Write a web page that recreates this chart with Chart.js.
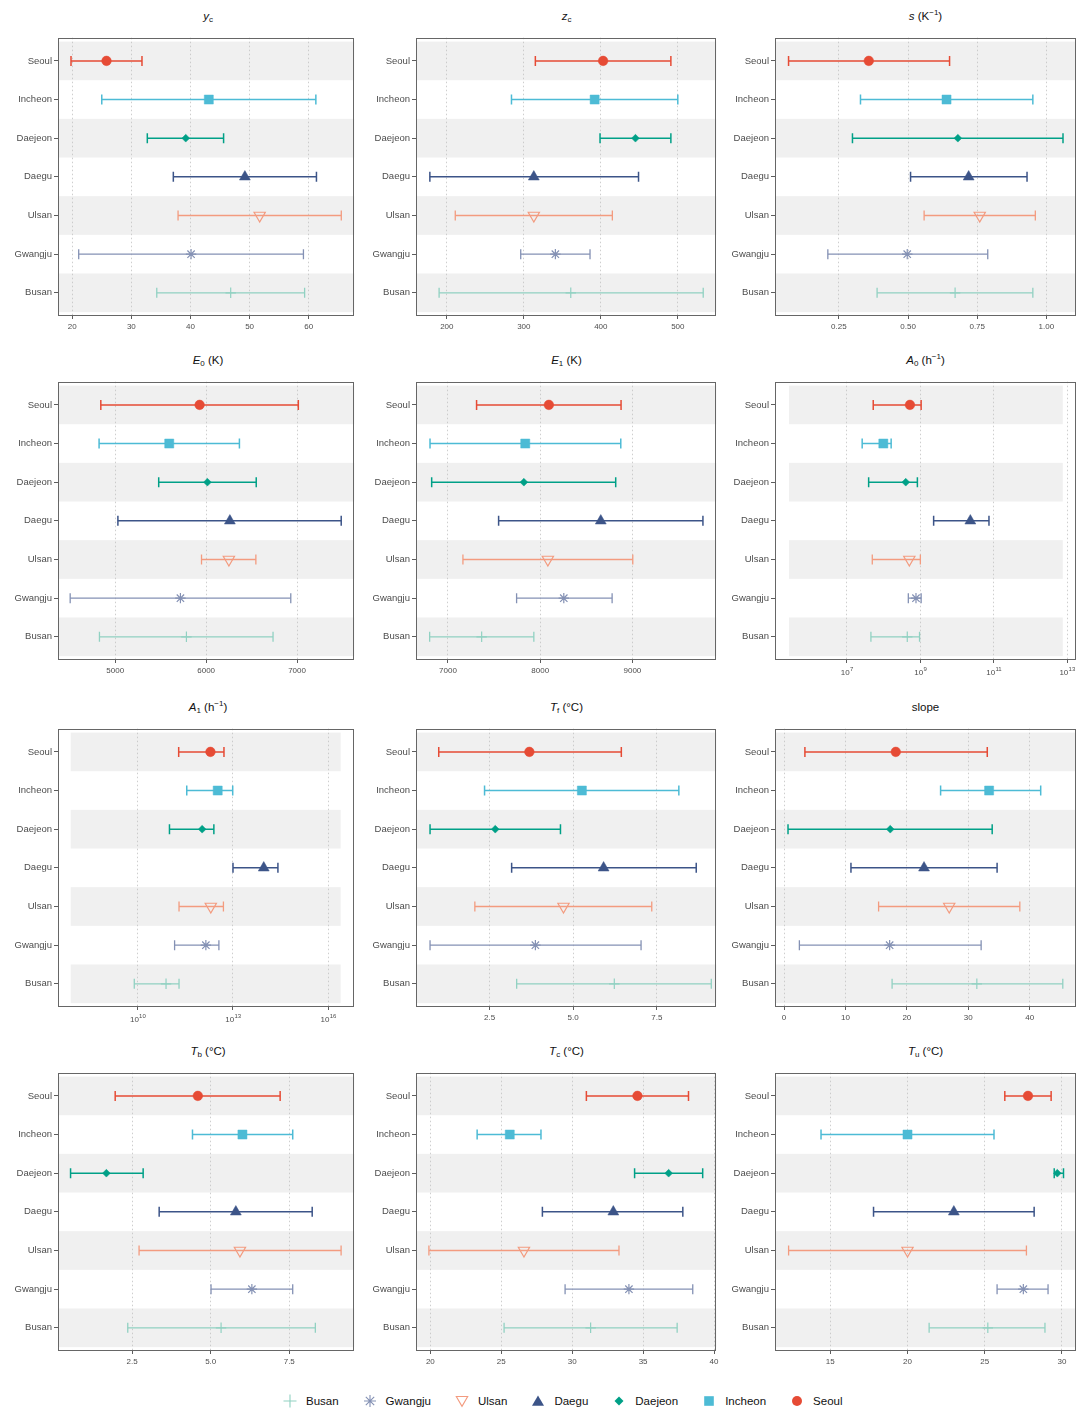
<!DOCTYPE html>
<html><head><meta charset="utf-8">
<script src="https://cdn.jsdelivr.net/npm/chart.js@4.4.1/dist/chart.umd.min.js"></script>
<style>
html,body{margin:0;padding:0;background:#fff;}
#wrap{position:relative;width:1086px;height:1420px;font-family:"Liberation Sans",Arial,sans-serif;overflow:hidden;}
canvas.cv{position:absolute;}
.ttl{position:absolute;text-align:center;font-size:11.5px;color:#111;line-height:14px;height:14px;white-space:nowrap;}
.ttl sub{font-size:8px;vertical-align:-2px;line-height:0;}
.ttl sup{font-size:8px;vertical-align:5px;line-height:0;}
#legend{position:absolute;left:282px;top:1393px;display:flex;align-items:center;gap:23px;font-size:11.5px;color:#111;height:16px;}
.li{display:flex;align-items:center;height:16px;}
.li svg{width:16px;height:16px;margin-right:8px;display:block;}
</style>
</head><body>
<div id="wrap"></div>
<script>
// ---------- categories & colours ----------
const cities = ['Seoul','Incheon','Daejeon','Daegu','Ulsan','Gwangju','Busan'];
const colors = ['#E64B35','#4DBBD5','#00A087','#3C5488','#F39B7F','#8491B4','#91D1C2'];

// ---------- data (lower bound, estimate, upper bound) ----------
const yc_lo  = [19.8, 25.0, 32.7, 37.1, 37.9, 21.1, 34.3];
const yc_mid = [25.8, 43.1, 39.2, 49.2, 51.7, 40.1, 46.8];
const yc_hi  = [31.8, 61.2, 45.6, 61.3, 65.5, 59.1, 59.3];

const zc_lo  = [315, 284, 399, 178, 211, 296, 190];
const zc_mid = [403, 392, 445, 313, 313, 341, 361];
const zc_hi  = [491, 500, 491, 449, 415, 386, 533];

const s_lo  = [0.068, 0.328, 0.299, 0.509, 0.558, 0.210, 0.388];
const s_mid = [0.358, 0.639, 0.680, 0.719, 0.759, 0.497, 0.670];
const s_hi  = [0.650, 0.951, 1.060, 0.930, 0.960, 0.788, 0.951];

const E0_lo  = [4841, 4822, 5478, 5029, 5949, 4504, 4826];
const E0_mid = [5928, 5594, 6014, 6261, 6250, 5717, 5783];
const E0_hi  = [7014, 6366, 6551, 7486, 6547, 6931, 6736];

const E1_lo  = [7310, 6805, 6823, 7549, 7162, 7744, 6801];
const E1_mid = [8094, 7838, 7823, 8657, 8083, 8256, 7365];
const E1_hi  = [8877, 8874, 8819, 9765, 9004, 8780, 7931];

const A0_lo  = [5.2e7, 2.6e7, 3.9e7, 2.3e9, 4.9e7, 4.7e8, 4.5e7];
const A0_mid = [5.2e8, 9.8e7, 4.0e8, 2.3e10, 5.0e8, 7.6e8, 4.4e8];
const A0_hi  = [1.05e9, 1.6e8, 8.3e8, 7.4e10, 1.0e9, 1.05e9, 9.5e8];

const A1_lo  = [1.95e11, 3.5e11, 1.0e11, 1.0e13, 2.0e11, 1.45e11, 7.8e9];
const A1_mid = [1.95e12, 3.3e12, 1.07e12, 9.3e13, 2.0e12, 1.4e12, 7.8e10];
const A1_hi  = [5.2e12, 9.8e12, 2.5e12, 2.6e14, 5.0e12, 3.6e12, 2.0e11];

const Tf_lo  = [0.98, 2.35, 0.72, 3.16, 2.06, 0.72, 3.31];
const Tf_mid = [3.69, 5.26, 2.67, 5.91, 4.71, 3.87, 6.23];
const Tf_hi  = [6.44, 8.16, 4.62, 8.68, 7.35, 7.03, 9.13];

const slope_lo  = [3.4, 25.5, 0.65, 10.9, 15.4, 2.5, 17.6];
const slope_mid = [18.2, 33.4, 17.3, 22.8, 26.9, 17.2, 31.4];
const slope_hi  = [33.1, 41.8, 33.9, 34.7, 38.4, 32.1, 45.4];

const Tb_lo  = [1.96, 4.42, 0.54, 3.36, 2.72, 5.01, 2.36];
const Tb_mid = [4.59, 6.01, 1.68, 5.80, 5.93, 6.31, 5.33];
const Tb_hi  = [7.21, 7.61, 2.85, 8.23, 9.15, 7.61, 8.33];

const Tc_lo  = [31.0, 23.3, 34.4, 27.9, 19.9, 29.5, 25.2];
const Tc_mid = [34.6, 25.6, 36.8, 32.9, 26.6, 34.0, 31.3];
const Tc_hi  = [38.2, 27.8, 39.2, 37.8, 33.3, 38.5, 37.4];

const Tu_lo  = [26.3, 14.4, 29.5, 17.8, 12.3, 25.8, 21.4];
const Tu_mid = [27.8, 20.0, 29.7, 23.0, 20.0, 27.5, 25.2];
const Tu_hi  = [29.3, 25.6, 30.1, 28.2, 27.7, 29.1, 28.9];

// ---------- tick values & labels ----------
const yc_ticks = [20, 30, 40, 50, 60];          const yc_labels = ['20','30','40','50','60'];
const zc_ticks = [200, 300, 400, 500];          const zc_labels = ['200','300','400','500'];
const s_ticks = [0.25, 0.5, 0.75, 1.0];         const s_labels = ['0.25','0.50','0.75','1.00'];
const E0_ticks = [5000, 6000, 7000];            const E0_labels = ['5000','6000','7000'];
const E1_ticks = [7000, 8000, 9000];            const E1_labels = ['7000','8000','9000'];
const A0_ticks = [1e7, 1e9, 1e11, 1e13];        const A0_labels = ['10^7','10^9','10^11','10^13'];
const A1_ticks = [1e10, 1e13, 1e16];            const A1_labels = ['10^10','10^13','10^16'];
const Tf_ticks = [2.5, 5, 7.5];                 const Tf_labels = ['2.5','5.0','7.5'];
const slope_ticks = [0, 10, 20, 30, 40];        const slope_labels = ['0','10','20','30','40'];
const Tb_ticks = [2.5, 5, 7.5];                 const Tb_labels = ['2.5','5.0','7.5'];
const Tc_ticks = [20, 25, 30, 35, 40];          const Tc_labels = ['20','25','30','35','40'];
const Tu_ticks = [15, 20, 25, 30];              const Tu_labels = ['15','20','25','30'];

// ---------- panel definitions ----------
const panels = [
  {title:'<i>y</i><sub>c</sub>', lo:yc_lo, mid:yc_mid, hi:yc_hi, ticks:yc_ticks, labels:yc_labels, min:17.6, max:67.7},
  {title:'<i>z</i><sub>c</sub>', lo:zc_lo, mid:zc_mid, hi:zc_hi, ticks:zc_ticks, labels:zc_labels, min:160, max:550},
  {title:'<i>s</i> (K<sup>\u22121</sup>)', lo:s_lo, mid:s_mid, hi:s_hi, ticks:s_ticks, labels:s_labels, min:0.019, max:1.107},
  {title:'<i>E</i><sub>0</sub> (K)', lo:E0_lo, mid:E0_mid, hi:E0_hi, ticks:E0_ticks, labels:E0_labels, min:4370, max:7630},
  {title:'<i>E</i><sub>1</sub> (K)', lo:E1_lo, mid:E1_mid, hi:E1_hi, ticks:E1_ticks, labels:E1_labels, min:6653, max:9910},
  {title:'<i>A</i><sub>0</sub> (h<sup>\u22121</sup>)', lo:A0_lo, mid:A0_mid, hi:A0_hi, ticks:A0_ticks, labels:A0_labels, log:true, min:Math.pow(10,5.04), max:Math.pow(10,13.24), band:[Math.pow(10,5.42), Math.pow(10,12.88)]},
  {title:'<i>A</i><sub>1</sub> (h<sup>\u22121</sup>)', lo:A1_lo, mid:A1_mid, hi:A1_hi, ticks:A1_ticks, labels:A1_labels, log:true, min:Math.pow(10,7.49), max:Math.pow(10,16.82), band:[Math.pow(10,7.89), Math.pow(10,16.39)]},
  {title:'<i>T</i><sub>f</sub> (\u00B0C)', lo:Tf_lo, mid:Tf_mid, hi:Tf_hi, ticks:Tf_ticks, labels:Tf_labels, min:0.30, max:9.28},
  {title:'slope', lo:slope_lo, mid:slope_mid, hi:slope_hi, ticks:slope_ticks, labels:slope_labels, min:-1.47, max:47.55},
  {title:'<i>T</i><sub>b</sub> (\u00B0C)', lo:Tb_lo, mid:Tb_mid, hi:Tb_hi, ticks:Tb_ticks, labels:Tb_labels, min:0.14, max:9.57},
  {title:'<i>T</i><sub>c</sub> (\u00B0C)', lo:Tc_lo, mid:Tc_mid, hi:Tc_hi, ticks:Tc_ticks, labels:Tc_labels, min:18.99, max:40.16},
  {title:'<i>T</i><sub>u</sub> (\u00B0C)', lo:Tu_lo, mid:Tu_mid, hi:Tu_hi, ticks:Tu_ticks, labels:Tu_labels, min:11.42, max:30.91}
];

// ---------- styles ----------
const FONT = '"Liberation Sans", Arial, sans-serif';
const markerStyle = [
  {ps:'circle',   r:4.8, fill:true,  rot:0},
  {ps:'rect',     r:6.4, fill:true,  rot:0},
  {ps:'rectRot',  r:3.9, fill:true,  rot:0},
  {ps:'triangle', r:6.3, fill:true,  rot:0},
  {ps:'triangle', r:6.5, fill:false, rot:180},
  {ps:'star',     r:5.2, fill:false, rot:0},
  {ps:'cross',    r:5.2, fill:false, rot:0}
];
const barWidth = [1.5, 1.5, 1.5, 1.5, 1.3, 1.3, 1.3];
const rowTop = [34, 378, 725, 1069];
const PLOT_H = 282;
const cellLeft = [0, 362, 724];
const yAxisW = [58, 54, 51];
const rightPad = [4, 7, 10];

const framePlugin = {
  id: 'frame',
  beforeDraw(chart, args, opts) {
    const {ctx, chartArea: a, scales: {x, y}} = chart;
    ctx.save();
    ctx.fillStyle = '#f0f0f0';
    let x0 = a.left, x1 = a.right;
    if (opts.band) { x0 = x.getPixelForValue(opts.band[0]); x1 = x.getPixelForValue(opts.band[1]); }
    for (let i = 0; i < cities.length; i += 2) {
      const t = y.getPixelForValue(i - 0.5), b = y.getPixelForValue(i + 0.5);
      ctx.fillRect(x0, t, x1 - x0, b - t);
    }
    ctx.restore();
  },
  afterDraw(chart, args, opts) {
    const {ctx, chartArea: a, scales: {x}} = chart;
    ctx.save();
    ctx.strokeStyle = '#666';
    ctx.lineWidth = 1;
    const l = Math.round(a.left) + 0.5, t = Math.round(a.top) + 0.5;
    const r = Math.round(a.right) - 0.5, b = Math.round(a.bottom) - 0.5;
    ctx.strokeRect(l, t, r - l, b - t);
    // power-of-ten tick labels with raised exponents
    if (opts.supLabels) {
      ctx.fillStyle = '#4d4d4d';
      ctx.textBaseline = 'alphabetic';
      ctx.textAlign = 'left';
      x.ticks.forEach((tk, i) => {
        const parts = opts.supLabels[i].split('^');
        const px = x.getPixelForValue(tk.value);
        ctx.font = '8px ' + FONT;
        const wb = ctx.measureText(parts[0]).width;
        ctx.font = '6px ' + FONT;
        const we = ctx.measureText(parts[1]).width;
        const x0 = px - (wb + we) / 2;
        const base = a.bottom + 3 + 3 + 9;
        ctx.font = '8px ' + FONT;
        ctx.fillText(parts[0], x0, base);
        ctx.font = '6px ' + FONT;
        ctx.fillText(parts[1], x0 + wb + 0.3, base - 4);
      });
    }
    ctx.restore();
  }
};

const wrap = document.getElementById('wrap');

panels.forEach((p, k) => {
  const row = Math.floor(k / 3), col = k % 3;
  const cv = document.createElement('canvas');
  cv.className = 'cv';
  const W = 362, H = 4 + PLOT_H + 22;
  cv.width = W; cv.height = H;
  cv.style.left = cellLeft[col] + 'px';
  cv.style.top = (rowTop[row] - 4) + 'px';
  cv.style.width = W + 'px'; cv.style.height = H + 'px';
  wrap.appendChild(cv);

  const t = document.createElement('div');
  t.className = 'ttl';
  t.innerHTML = p.title;
  t.style.left = (cellLeft[col] + yAxisW[col]) + 'px';
  t.style.width = (W - yAxisW[col] - rightPad[col]) + 'px';
  t.style.top = (rowTop[row] - 25) + 'px';
  wrap.appendChild(t);

  const datasets = [];
  cities.forEach((c, i) => {
    const m = markerStyle[i];
    datasets.push({
      label: c,
      data: [{x: p.mid[i], y: i}],
      showLine: false,
      pointStyle: m.ps,
      pointRadius: m.r,
      pointRotation: m.rot,
      pointBackgroundColor: m.fill ? colors[i] : 'rgba(0,0,0,0)',
      pointBorderColor: colors[i],
      pointBorderWidth: m.fill ? 0.5 : 1.2,
      order: 0
    });
  });
  cities.forEach((c, i) => {
    datasets.push({
      label: c + ' CI',
      data: [{x: p.lo[i], y: i}, {x: p.hi[i], y: i}],
      showLine: true,
      borderColor: colors[i],
      borderWidth: barWidth[i],
      pointStyle: 'line',
      pointRotation: 90,
      pointRadius: 5,
      pointBorderWidth: barWidth[i],
      pointBorderColor: colors[i],
      pointBackgroundColor: colors[i],
      fill: false,
      order: 1
    });
  });

  new Chart(cv, {
    type: 'scatter',
    data: {datasets},
    options: {
      responsive: false,
      animation: false,
      events: [],
      layout: {padding: {top: 4, right: rightPad[col], left: 0, bottom: 0}},
      plugins: {legend: {display: false}, tooltip: {enabled: false},
                frame: {band: p.band || null, supLabels: p.log ? p.labels : null}},
      scales: {
        x: {
          type: p.log ? 'logarithmic' : 'linear',
          min: p.min, max: p.max,
          afterBuildTicks: s => { s.ticks = p.ticks.map(v => ({value: v})); },
          afterFit: s => { s.height = 22; },
          ticks: {
            callback: (v, i) => p.labels[i],
            font: {size: 8, family: FONT},
            color: p.log ? 'rgba(0,0,0,0)' : '#4d4d4d', padding: 3, maxRotation: 0, autoSkip: false
          },
          grid: {color: '#c2c2c2', lineWidth: 0.8, drawTicks: true, tickLength: 3, tickColor: '#333', tickWidth: 0.8, tickBorderDash: []},
          border: {display: false, dash: [1.5, 2.5]}
        },
        y: {
          type: 'linear', reverse: true, min: -0.6, max: 6.6,
          afterBuildTicks: s => { s.ticks = cities.map((c, i) => ({value: i})); },
          afterFit: s => { s.width = yAxisW[col]; },
          ticks: {
            callback: (v, i) => cities[i],
            font: {size: 9.5, family: FONT},
            color: '#4d4d4d', padding: 2, autoSkip: false
          },
          grid: {drawOnChartArea: false, drawTicks: true, tickLength: 4, tickColor: '#333', tickWidth: 0.8},
          border: {display: false}
        }
      }
    },
    plugins: [framePlugin]
  });
});

// ---------- legend ----------
const legendIcons = [
  '<path d="M8 1.5V14.5M1.5 8H14.5" stroke="#91D1C2" stroke-width="1.1" fill="none"/>',
  '<path d="M8 2V14M2 8H14M3.8 3.8L12.2 12.2M12.2 3.8L3.8 12.2" stroke="#8491B4" stroke-width="1.1" fill="none"/>',
  '<polygon points="2.3,3.5 13.7,3.5 8,13.3" stroke="#F39B7F" stroke-width="1.1" fill="none"/>',
  '<polygon points="8,2.5 14,12.8 2,12.8" fill="#3C5488"/>',
  '<polygon points="8,3.5 12.5,8 8,12.5 3.5,8" fill="#00A087"/>',
  '<rect x="3.2" y="3.2" width="9.6" height="9.6" fill="#4DBBD5"/>',
  '<circle cx="8" cy="8" r="5" fill="#E64B35"/>'
];
const legendOrder = ['Busan','Gwangju','Ulsan','Daegu','Daejeon','Incheon','Seoul'];
const lg = document.createElement('div');
lg.id = 'legend';
legendOrder.forEach((name, j) => {
  const it = document.createElement('div');
  it.className = 'li';
  it.innerHTML = '<svg viewBox="0 0 16 16">' + legendIcons[j] + '</svg><span>' + name + '</span>';
  lg.appendChild(it);
});
wrap.appendChild(lg);
</script>
</body></html>
